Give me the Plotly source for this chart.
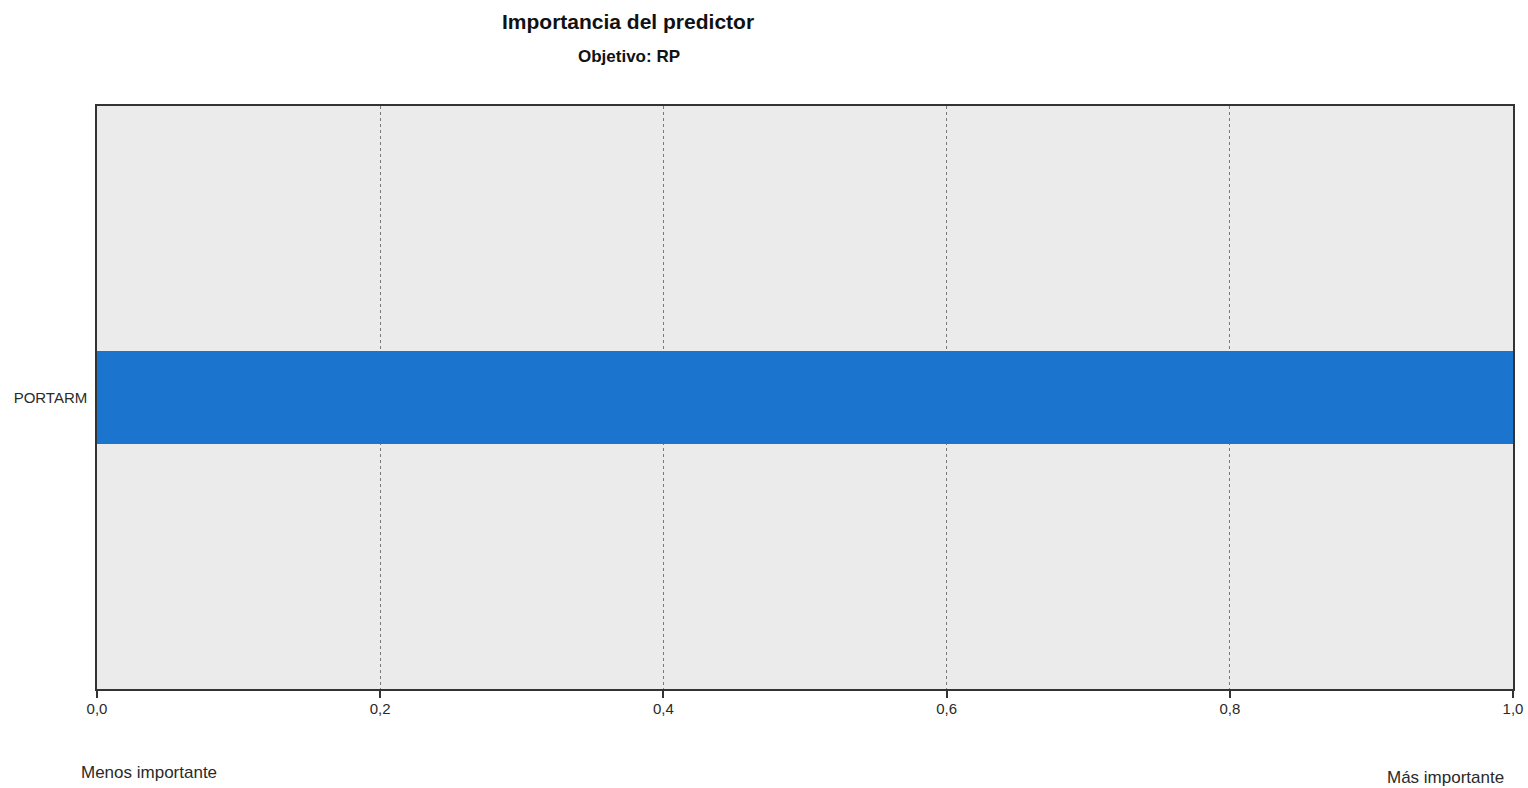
import plotly.graph_objects as go

# Predictor importance data
predictors = ["PORTARM"]
importance = [1.0]
tick_values = [0.0, 0.2, 0.4, 0.6, 0.8, 1.0]
tick_labels = ["0,0", "0,2", "0,4", "0,6", "0,8", "1,0"]

W, H = 1528, 788
L, R, T, B = 97, 15, 106, 99
FONT = "Liberation Sans, Arial, sans-serif"

fig = go.Figure()
fig.add_trace(go.Bar(
    x=importance,
    y=predictors,
    orientation="h",
    width=0.16,
    marker=dict(color="#1B75CE", line=dict(width=0)),
    hoverinfo="x+y",
))

fig.update_layout(
    width=W, height=H,
    margin=dict(l=L, r=R, t=T, b=B, pad=0, autoexpand=False),
    paper_bgcolor="white",
    plot_bgcolor="#EBEBEB",
    showlegend=False,
    font=dict(family=FONT, size=15, color="#2a2a2a"),
    bargap=0,
)

fig.update_xaxes(
    range=[0, 1],
    tickvals=tick_values,
    ticktext=tick_labels,
    ticks="outside", ticklen=7, tickcolor="#333", tickwidth=1.5,
    ticklabelstandoff=-2,
    tickfont=dict(size=15, color="#2a2a2a"),
    showgrid=True, gridcolor="#7a7a7a", griddash="3px,3px", gridwidth=1,
    showline=True, linecolor="#333", linewidth=1.5, mirror=True,
    zeroline=False, automargin=False,
    fixedrange=True,
)
fig.update_yaxes(
    range=[-0.5, 0.5],
    ticks="", ticklabelstandoff=5,
    tickfont=dict(size=15, color="#2a2a2a"),
    showgrid=False,
    showline=True, linecolor="#333", linewidth=1.5, mirror=True,
    zeroline=False, automargin=False,
    fixedrange=True,
)

PW, PH = W - L - R, H - T - B

fig.add_annotation(text="<b>Importancia del predictor</b>", xref="paper", yref="paper",
                   x=(628 - L) / PW, y=1 + (T - 22) / PH,
                   xanchor="center", yanchor="middle", showarrow=False,
                   font=dict(size=21, family=FONT, color="#111"))
fig.add_annotation(text="<b>Objetivo: RP</b>", xref="paper", yref="paper",
                   x=(629 - L) / PW, y=1 + (T - 57) / PH,
                   xanchor="center", yanchor="middle", showarrow=False,
                   font=dict(size=17, family=FONT, color="#111"))
fig.add_annotation(text="Menos importante", xref="paper", yref="paper",
                   x=(79 - L) / PW, y=-(772 - (H - B)) / PH,
                   xanchor="left", yanchor="middle", showarrow=False,
                   font=dict(size=17, family=FONT, color="#2a2a2a"))
fig.add_annotation(text="Más importante", xref="paper", yref="paper",
                   x=(1506 - L) / PW, y=-(777 - (H - B)) / PH,
                   xanchor="right", yanchor="middle", showarrow=False,
                   font=dict(size=17, family=FONT, color="#2a2a2a"))

fig.write_html("out.html")
